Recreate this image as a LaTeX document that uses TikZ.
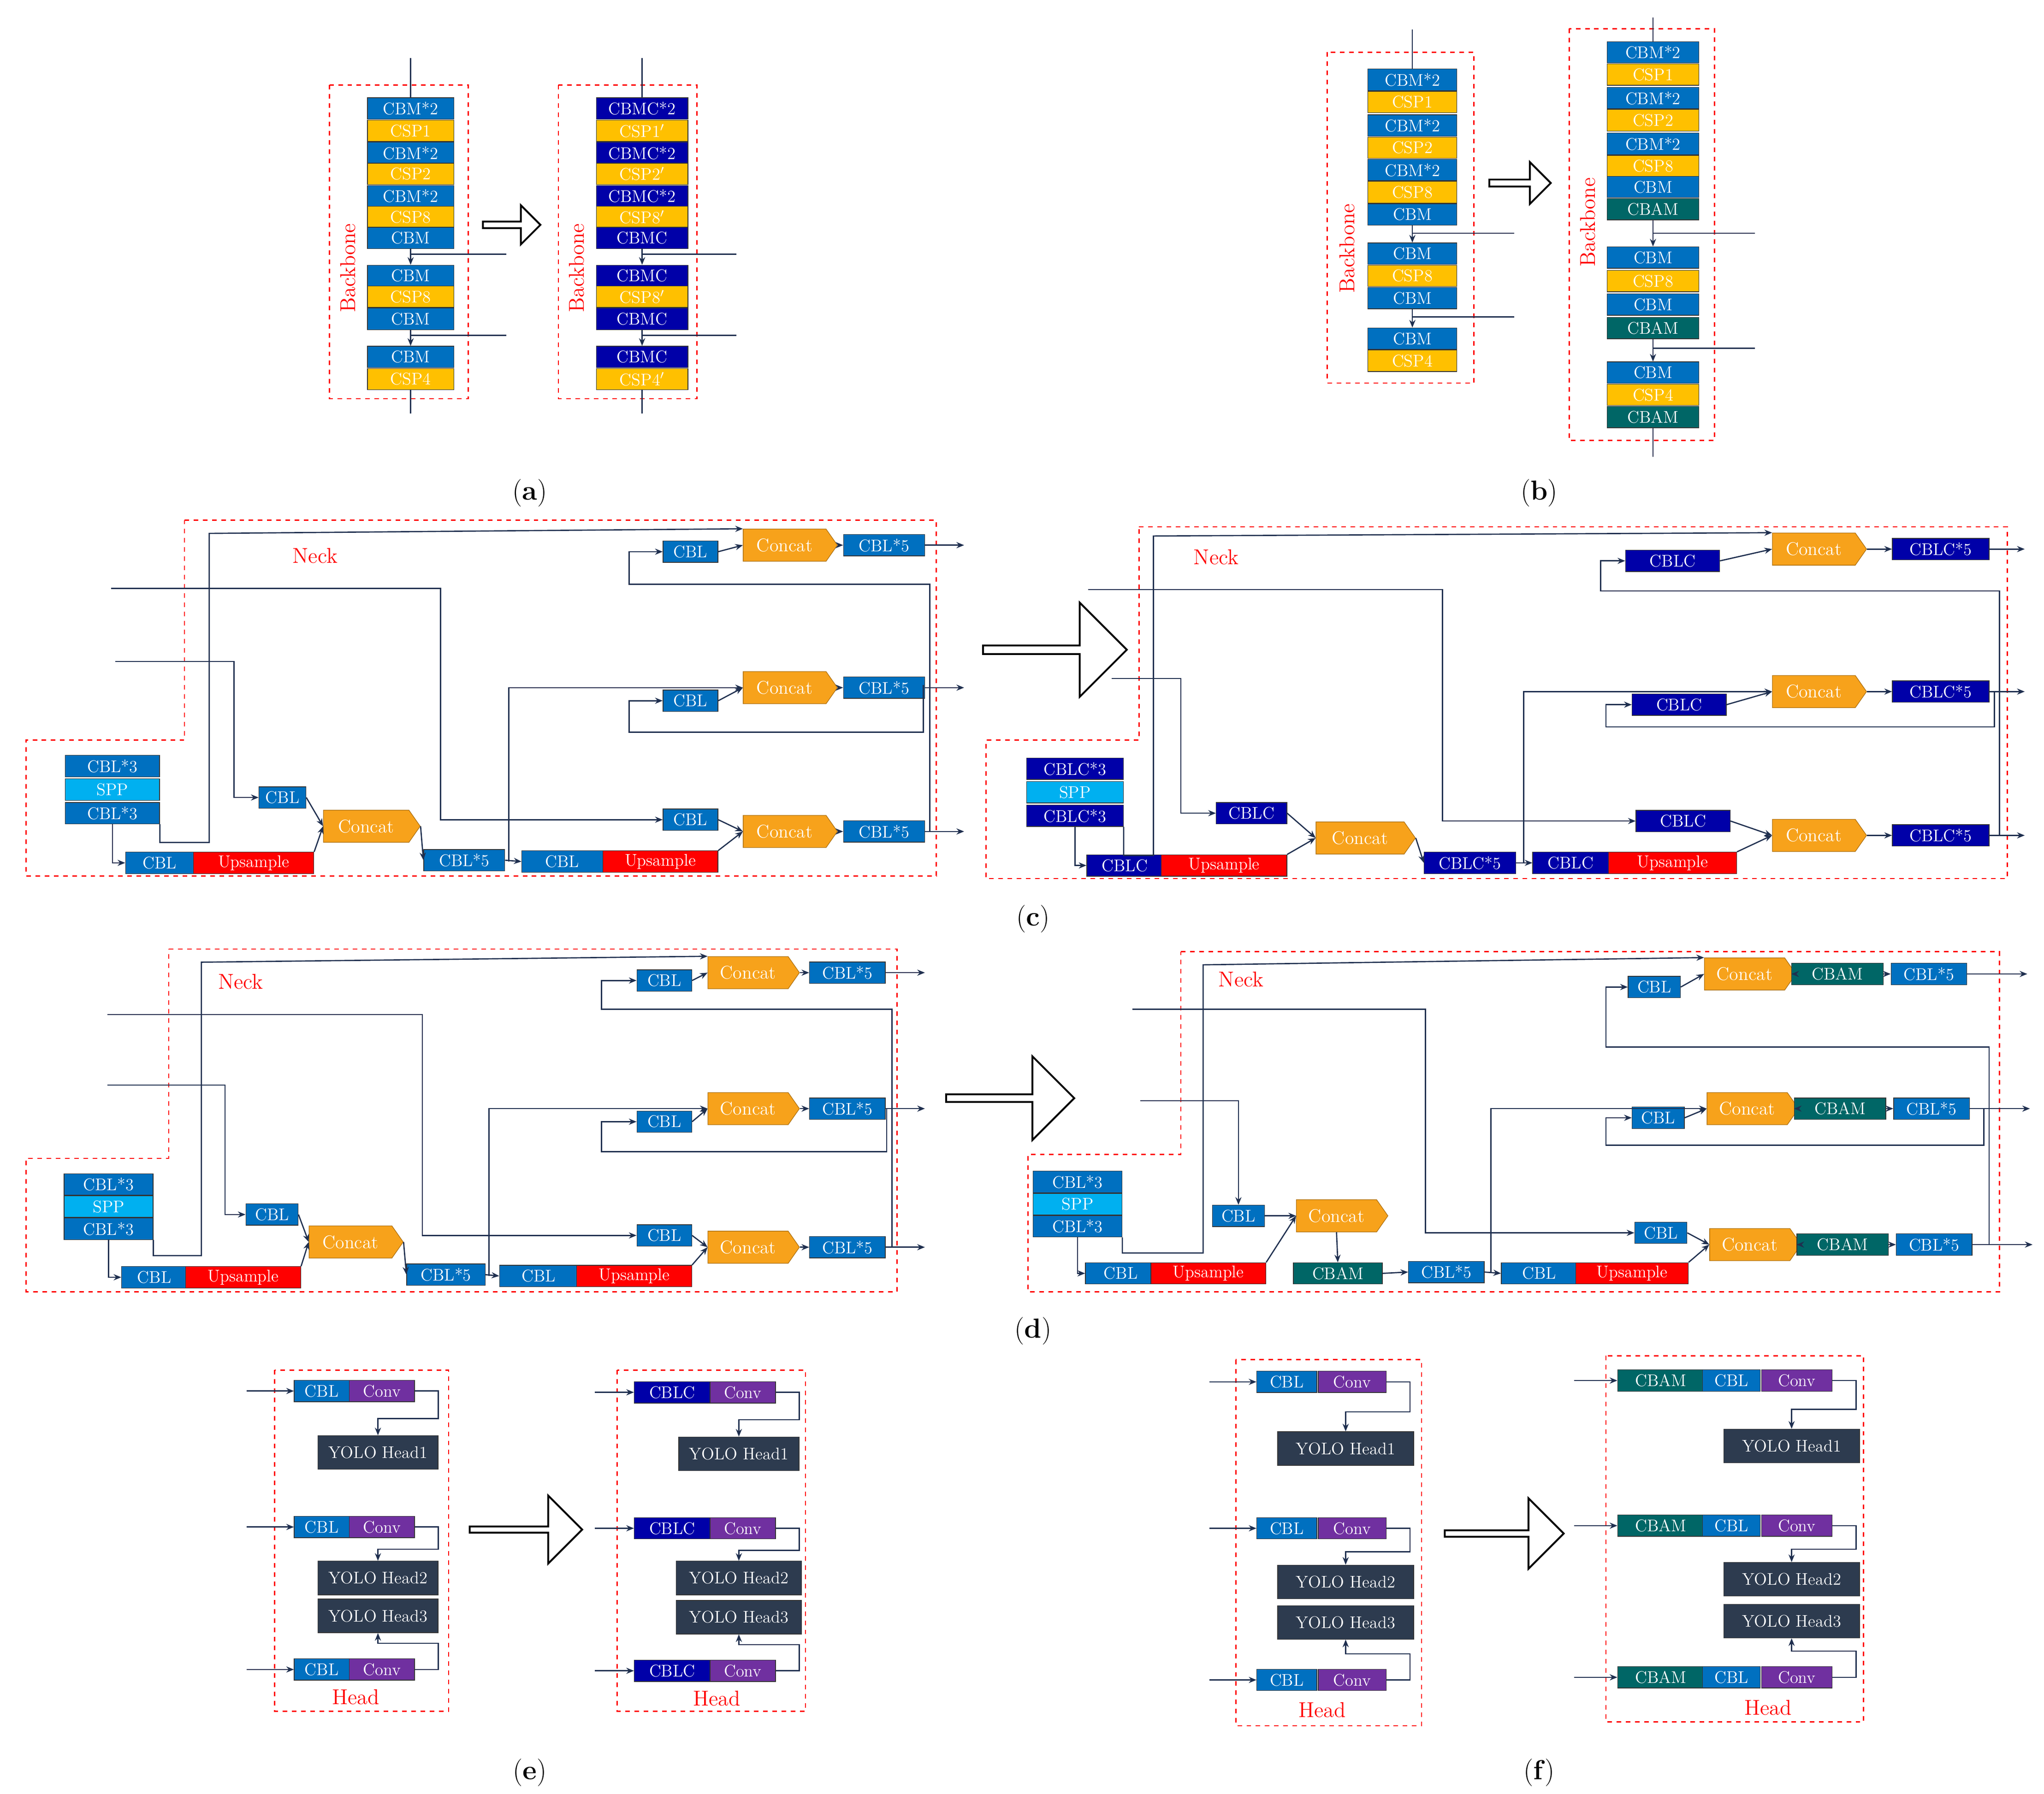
\documentclass[tikz,border=0pt]{standalone}
\usetikzlibrary{shapes.symbols,shapes.arrows,arrows.meta}
\definecolor{cbmblue}{HTML}{0070C0}
\definecolor{cspyel}{HTML}{FFC000}
\definecolor{cbmcblue}{HTML}{0000A8}
\definecolor{sppblue}{HTML}{00B0F0}
\definecolor{upred}{HTML}{FF0000}
\definecolor{catorg}{HTML}{F7A21B}
\definecolor{cbamteal}{HTML}{006666}
\definecolor{convpur}{HTML}{7030A0}
\definecolor{yolodark}{HTML}{2D3B4F}
\definecolor{lnc}{HTML}{1F2F4F}
\newcommand\bk[5][]{\node[blk,#1,minimum width=#4*0.3mm] (#2) at (#3) {#5};}
\begin{document}
\begin{tikzpicture}[x=0.3mm, y=-0.3mm,
    blk/.style={draw=black!80, minimum height=14pt, inner sep=0pt, text=white, font=\fontsize{11}{12}\selectfont},
    cbm/.style={fill=cbmblue}, csp/.style={fill=cspyel}, cbmc/.style={fill=cbmcblue},
    spp/.style={fill=sppblue}, ups/.style={fill=upred}, cbam/.style={fill=cbamteal},
    conv/.style={fill=convpur}, yolo/.style={fill=yolodark, minimum height=22pt},
    cat/.style={fill=catorg, draw=catorg!70!black, signal, signal to=east, signal pointer angle=110, minimum height=21pt, font=\fontsize{12}{13}\selectfont},
    frame/.style={draw=red, dashed, thick},
    redlab/.style={text=red, font=\fontsize{14}{15}\selectfont},
    panlab/.style={font=\fontsize{18}{20}\selectfont},
    bigarr/.style={single arrow, draw=black, very thick, fill=white, minimum height=#1*0.3mm, single arrow head extend=6pt, inner sep=0pt},
    ln/.style={draw=lnc, thick},
    arr/.style={ln, -{Stealth[length=5pt,width=4pt]}}]
\useasboundingbox (0,0) rectangle (1563,1372);

% (a)
\draw[frame] (252,65) rectangle (358,305);
\draw[frame] (427,65) rectangle (533,305);
\foreach \y/\t/\s [count=\i] in {83/CBM*2/cbm,100/CSP1/csp,117/CBM*2/cbm,133/CSP2/csp,150/CBM*2/cbm,166/CSP8/csp,182/CBM/cbm,211/CBM/cbm,227/CSP8/csp,244/CBM/cbm,273/CBM/cbm,290/CSP4/csp}
  \bk[\s]{a\i}{314,\y}{66}{\t};
\foreach \y/\t/\s [count=\i] in {83/CBMC*2/cbmc,100/CSP1$'$/csp,117/CBMC*2/cbmc,133/CSP2$'$/csp,150/CBMC*2/cbmc,166/CSP8$'$/csp,182/CBMC/cbmc,211/CBMC/cbmc,227/CSP8$'$/csp,244/CBMC/cbmc,273/CBMC/cbmc,290/CSP4$'$/csp}
  \bk[\s]{ar\i}{491,\y}{70}{\t};
\draw[ln] (a1.north) -- ++(0,-30); \draw[ln] (a12.south) -- ++(0,18);
\draw[arr] (a7.south) -- (a8.north); \draw[arr] (a10.south) -- (a11.north);
\draw[ln] (a7.south) ++(0,4) -- ++(73,0); \draw[ln] (a10.south) ++(0,4) -- ++(73,0);
\draw[ln] (ar1.north) -- ++(0,-30); \draw[ln] (ar12.south) -- ++(0,18);
\draw[arr] (ar7.south) -- (ar8.north); \draw[arr] (ar10.south) -- (ar11.north);
\draw[ln] (ar7.south) ++(0,4) -- ++(72,0); \draw[ln] (ar10.south) ++(0,4) -- ++(72,0);
\node[redlab, rotate=90] at (266,205) {Backbone};
\node[redlab, rotate=90] at (441,205) {Backbone};
\node[bigarr=44, minimum width=30*0.3mm, single arrow head extend=3pt] at (390,172) {};
\node[panlab] at (405,377) {(\textbf{a})};

% (b)
\draw[frame] (1015,40) rectangle (1127,293);
\draw[frame] (1200,22) rectangle (1311,337);
\foreach \y/\t/\s [count=\i] in {61/CBM*2/cbm,78/CSP1/csp,96/CBM*2/cbm,113/CSP2/csp,130/CBM*2/cbm,147/CSP8/csp,164/CBM/cbm,194/CBM/cbm,211/CSP8/csp,228/CBM/cbm,259/CBM/cbm,276/CSP4/csp}
  \bk[\s]{b\i}{1080,\y}{68}{\t};
\foreach \y/\t/\s [count=\i] in {40/CBM*2/cbm,57/CSP1/csp,75/CBM*2/cbm,92/CSP2/csp,110/CBM*2/cbm,127/CSP8/csp,143/CBM/cbm,160/CBAM/cbam,197/CBM/cbm,215/CSP8/csp,233/CBM/cbm,251/CBAM/cbam,285/CBM/cbm,302/CSP4/csp,319/CBAM/cbam}
  \bk[\s]{br\i}{1264,\y}{70}{\t};
\draw[ln] (b1.north) -- ++(0,-30); \draw[arr] (b7.south) -- (b8.north); \draw[arr] (b10.south) -- (b11.north);
\draw[ln] (b7.south) ++(0,6) -- ++(78,0); \draw[ln] (b10.south) ++(0,6) -- ++(78,0);
\draw[ln] (br1.north) -- ++(0,-18); \draw[ln] (br15.south) -- ++(0,22);
\draw[arr] (br8.south) -- (br9.north); \draw[arr] (br12.south) -- (br13.north);
\draw[ln] (br8.south) ++(0,10) -- ++(78,0); \draw[ln] (br12.south) ++(0,7) -- ++(78,0);
\node[redlab, rotate=90] at (1030,190) {Backbone};
\node[redlab, rotate=90] at (1214,170) {Backbone};
\node[bigarr=47, minimum width=32*0.3mm, single arrow head extend=3pt] at (1161,140) {};
\node[panlab] at (1177,377) {(\textbf{b})};

% (c) left
\draw[frame] (141,398) -- (716,398) -- (716,670) -- (20,670) -- (20,566) -- (141,566) -- cycle;
\node[redlab] at (241,425) {Neck};
\bk[cbm]{c1}{86,586}{72}{CBL*3} \bk[spp]{c2}{86,604}{72}{SPP} \bk[cbm]{c3}{86,622}{72}{CBL*3}
\bk[cbm]{ccbl}{122,660}{52}{CBL} \bk[ups]{cup}{194,660}{92}{Upsample}
\bk[cbm]{ccblA}{216,610}{36}{CBL}
\node[blk,cat,minimum width=74*0.3mm] (ccat0) at (280,632) {Concat};
\bk[cbm]{cc5}{355,658}{62}{CBL*5}
\bk[cbm]{ccbl2}{430,659}{62}{CBL} \bk[ups]{cup2}{505,659}{88}{Upsample}
\bk[cbm]{ccblT}{528,422}{42}{CBL} \bk[cbm]{ccblM}{528,536}{42}{CBL} \bk[cbm]{ccblB}{528,627}{42}{CBL}
\foreach \n/\y in {T/417,M/526,B/636}{
  \node[blk,cat,minimum width=72*0.3mm] (ccat\n) at (600,\y) {Concat};
  \bk[cbm]{c5\n}{676,\y}{62}{CBL*5}
  \draw[arr] (ccat\n.east) -- (c5\n.west);
  \draw[arr] (c5\n.east) -- ++(30,0);
  \draw[arr] (ccbl\n.east) -- (ccat\n.west);}
\coordinate (ci1) at (85,450); \coordinate (ci2) at (88,506);
\draw[arr] (c3.south) |- (ccbl.west);
\draw[arr] (c3.south east) -- ++(0,14) -| (160,408) -- (ccatT.north west);
\draw[arr] (ci2) -| (179,600) |- (ccblA.west);
\draw[arr] (ci1) -| (337,600) |- (ccblB.west);
\draw[arr] (cup.north east) -- (ccat0.west); \draw[arr] (ccblA.east) -- (ccat0.west);
\draw[arr] (ccat0.east) -- (cc5.west); \draw[arr] (cc5.east) -- (ccbl2.west);
\draw[arr] (389,659) |- (ccatM.west); \draw[arr] (cup2.north east) -- (ccatB.west);
\draw[arr] (711,636) |- (481,447) |- (ccblT.west);
\draw[arr] (706,524) |- (481,560) |- (ccblM.west);
\node[bigarr=110, minimum width=72*0.3mm] at (805,497) {};

% (c) right
\draw[frame] (871,403) -- (1535,403) -- (1535,672) -- (754,672) -- (754,566) -- (871,566) -- cycle;
\node[redlab] at (930,426) {Neck};
\bk[cbmc]{r1}{822,588}{74}{CBLC*3} \bk[spp]{r2}{822,606}{74}{SPP} \bk[cbmc]{r3}{822,624}{74}{CBLC*3}
\bk[cbmc]{rcbl}{860,662}{58}{CBLC} \bk[ups]{rup}{936,662}{96}{Upsample}
\bk[cbmc]{rcblA}{957,622}{54}{CBLC}
\node[blk,cat,minimum width=76*0.3mm] (rcat0) at (1040,641) {Concat};
\bk[cbmc]{rc5}{1124,660}{70}{CBLC*5}
\bk[cbmc]{rcbl2}{1201,660}{58}{CBLC} \bk[ups]{rup2}{1279,660}{98}{Upsample}
\bk[cbmc]{rcblT}{1279,429}{72}{CBLC} \bk[cbmc]{rcblM}{1284,539}{72}{CBLC} \bk[cbmc]{rcblB}{1287,628}{72}{CBLC}
\foreach \n/\y in {T/420,M/529,B/639}{
  \node[blk,cat,minimum width=72*0.3mm] (rcat\n) at (1387,\y) {Concat};
  \bk[cbmc]{r5\n}{1484,\y}{74}{CBLC*5}
  \draw[arr] (rcat\n.east) -- (r5\n.west);
  \draw[arr] (r5\n.east) -- ++(27,0);
  \draw[arr] (rcbl\n.east) -- (rcat\n.west);}
\coordinate (ri1) at (832,451); \coordinate (ri2) at (850,519);
\draw[arr] (r3.south) |- (rcbl.west);
\draw[arr] (r3.south east) -- ++(0,22) -| (882,410) -- (rcatT.north west);
\draw[arr] (ri2) -| (903,600) |- (rcblA.west);
\draw[arr] (ri1) -| (1103,600) |- (rcblB.west);
\draw[arr] (rup.north east) -- (rcat0.west); \draw[arr] (rcblA.east) -- (rcat0.west);
\draw[arr] (rcat0.east) -- (rc5.west); \draw[arr] (rc5.east) -- (rcbl2.west);
\draw[arr] (1165,660) |- (rcatM.west); \draw[arr] (rup2.north east) -- (rcatB.west);
\draw[arr] (1529,639) |- (1224,452) |- (rcblT.west);
\draw[arr] (1525,529) |- (1228,556) |- (rcblM.west);
\node[panlab] at (790,703) {(\textbf{c})};

% (d) left
\draw[frame] (129,726) -- (686,726) -- (686,988) -- (20,988) -- (20,886) -- (129,886) -- cycle;
\node[redlab] at (184,751) {Neck};
\bk[cbm]{d1}{83,906}{68}{CBL*3} \bk[spp]{d2}{83,923}{68}{SPP} \bk[cbm]{d3}{83,940}{68}{CBL*3}
\bk[cbm]{dcbl}{118,977}{50}{CBL} \bk[ups]{dup}{186,977}{88}{Upsample}
\bk[cbm]{dcblA}{208,929}{40}{CBL}
\node[blk,cat,minimum width=72*0.3mm] (dcat0) at (268,950) {Concat};
\bk[cbm]{dc5}{341,975}{60}{CBL*5}
\bk[cbm]{dcbl2}{412,976}{60}{CBL} \bk[ups]{dup2}{485,976}{88}{Upsample}
\bk[cbm]{dcblT}{508,750}{42}{CBL} \bk[cbm]{dcblM}{508,858}{42}{CBL} \bk[cbm]{dcblB}{508,945}{42}{CBL}
\foreach \n/\y in {T/744,M/848,B/954}{
  \node[blk,cat,minimum width=70*0.3mm] (dcat\n) at (572,\y) {Concat};
  \bk[cbm]{d5\n}{648,\y}{58}{CBL*5}
  \draw[arr] (dcat\n.east) -- (d5\n.west);
  \draw[arr] (d5\n.east) -- ++(30,0);
  \draw[arr] (dcbl\n.east) -- (dcat\n.west);}
\coordinate (di1) at (82,776); \coordinate (di2) at (82,830);
\draw[arr] (d3.south) |- (dcbl.west);
\draw[arr] (d3.south east) -- ++(0,12) -| (154,736) -- (dcatT.north west);
\draw[arr] (di2) -| (172,900) |- (dcblA.west);
\draw[arr] (di1) -| (323,900) |- (dcblB.west);
\draw[arr] (dup.north east) -- (dcat0.west); \draw[arr] (dcblA.east) -- (dcat0.west);
\draw[arr] (dcat0.east) -- (dc5.west); \draw[arr] (dc5.east) -- (dcbl2.west);
\draw[arr] (374,976) |- (dcatM.west); \draw[arr] (dup2.north east) -- (dcatB.west);
\draw[arr] (682,954) |- (460,772) |- (dcblT.west);
\draw[arr] (678,848) |- (460,881) |- (dcblM.west);
\node[bigarr=98, minimum width=64*0.3mm] at (771,840) {};

% (d) right
\draw[frame] (903,728) -- (1529,728) -- (1529,988) -- (786,988) -- (786,883) -- (903,883) -- cycle;
\node[redlab] at (949,749) {Neck};
\bk[cbm]{e1}{824,904}{68}{CBL*3} \bk[spp]{e2}{824,921}{68}{SPP} \bk[cbm]{e3}{824,938}{68}{CBL*3}
\bk[cbm]{ecbl}{857,974}{54}{CBL} \bk[ups]{eup}{924,974}{88}{Upsample}
\bk[cbm]{ecblA}{947,930}{40}{CBL}
\node[blk,cat,minimum width=70*0.3mm] (ecat0) at (1022,930) {Concat};
\bk[cbam]{ecbam0}{1023,974}{68}{CBAM}
\bk[cbm]{ec5}{1106,973}{58}{CBL*5}
\bk[cbm]{ecbl2}{1177,974}{58}{CBL} \bk[ups]{eup2}{1248,974}{86}{Upsample}
\bk[cbm]{ecblT}{1265,755}{40}{CBL} \bk[cbm]{ecblM}{1268,855}{40}{CBL} \bk[cbm]{ecblB}{1270,943}{40}{CBL}
\foreach \n/\y/\x in {T/745/1334,M/848/1336,B/952/1338}{
  \node[blk,cat,minimum width=70*0.3mm] (ecat\n) at (\x,\y) {Concat};
  \bk[cbam]{ecbam\n}{\x+71,\y}{70}{CBAM}
  \bk[cbm]{e5\n}{\x+141,\y}{58}{CBL*5}
  \draw[arr] (ecat\n.east) -- (ecbam\n.west);
  \draw[arr] (ecbam\n.east) -- (e5\n.west);
  \draw[arr] (e5\n.east) -- ++(46,0);
  \draw[arr] (ecbl\n.east) -- (ecat\n.west);}
\coordinate (ei1) at (866,772); \coordinate (ei2) at (872,842);
\draw[arr] (e3.south) |- (ecbl.west);
\draw[arr] (e3.south east) -- ++(0,12) -| (920,738) -- (ecatT.north west);
\draw[arr] (ei2) -| (ecblA.north);
\draw[arr] (ei1) -| (1090,900) |- (ecblB.west);
\draw[arr] (eup.north east) -- (ecat0.west); \draw[arr] (ecblA.east) -- (ecat0.west);
\draw[arr] (ecat0.south) -- (ecbam0.north);
\draw[arr] (ecbam0.east) -- (ec5.west); \draw[arr] (ec5.east) -- (ecbl2.west);
\draw[arr] (1140,974) |- (ecatM.west); \draw[arr] (eup2.north east) -- (ecatB.west);
\draw[arr] (1521,952) |- (1228,801) |- (ecblT.west);
\draw[arr] (1517,848) |- (1228,876) |- (ecblM.west);
\node[panlab] at (790,1018) {(\textbf{d})};

% (e)
\draw[frame] (210,1048) rectangle (343,1309);
\draw[frame] (472,1048) rectangle (616,1309);
\node[redlab] at (272,1298) {Head};
\node[redlab] at (548,1299) {Head};
\foreach \y [count=\i] in {1064,1168,1277}{
  \bk[cbm]{hL\i}{246,\y}{42}{CBL} \bk[conv]{hC\i}{292,\y}{50}{Conv}
  \draw[arr] (hL\i.west) ++(-36,0) -- (hL\i.west);
  \bk[cbmc]{hrL\i}{514,\y+1}{58}{CBLC} \bk[conv]{hrC\i}{568,\y+1}{50}{Conv}
  \draw[arr] (hrL\i.west) ++(-30,0) -- (hrL\i.west);}
\bk[yolo]{hH1}{289,1111}{92}{YOLO Head1} \bk[yolo]{hH2}{289,1207}{92}{YOLO Head2} \bk[yolo]{hH3}{289,1236}{92}{YOLO Head3}
\bk[yolo]{hrH1}{565,1112}{92}{YOLO Head1} \bk[yolo]{hrH2}{565,1207}{96}{YOLO Head2} \bk[yolo]{hrH3}{565,1237}{96}{YOLO Head3}
\draw[arr] (hC1.east) -| ++(18,21) -| (hH1.north);
\draw[arr] (hC2.east) -| ++(18,17) -| (hH2.north);
\draw[arr] (hC3.east) -| ++(18,-20) -| (hH3.south);
\draw[arr] (hrC1.east) -| ++(18,21) -| (hrH1.north);
\draw[arr] (hrC2.east) -| ++(18,17) -| (hrH2.north);
\draw[arr] (hrC3.east) -| ++(18,-20) -| (hrH3.south);
\node[bigarr=86, minimum width=52*0.3mm] at (401,1170) {};
\node[panlab] at (405,1356) {(\textbf{e})};

% (f)
\draw[frame] (945,1040) rectangle (1087,1320);
\draw[frame] (1228,1037) rectangle (1425,1317);
\node[redlab] at (1011,1308) {Head};
\node[redlab] at (1352,1306) {Head};
\foreach \y/\z [count=\i] in {1057/1056,1169/1167,1285/1283}{
  \bk[cbm]{fL\i}{984,\y}{46}{CBL} \bk[conv]{fC\i}{1034,\y}{52}{Conv}
  \draw[arr] (fL\i.west) ++(-36,0) -- (fL\i.west);
  \bk[cbam]{frA\i}{1270,\z}{66}{CBAM} \bk[cbm]{frL\i}{1324,\z}{44}{CBL} \bk[conv]{frC\i}{1374,\z}{54}{Conv}
  \draw[arr] (frA\i.west) ++(-33,0) -- (frA\i.west);}
\bk[yolo]{fH1}{1029,1108}{104}{YOLO Head1} \bk[yolo]{fH2}{1029,1210}{104}{YOLO Head2} \bk[yolo]{fH3}{1029,1241}{104}{YOLO Head3}
\bk[yolo]{frH1}{1370,1106}{104}{YOLO Head1} \bk[yolo]{frH2}{1370,1208}{104}{YOLO Head2} \bk[yolo]{frH3}{1370,1240}{104}{YOLO Head3}
\draw[arr] (fC1.east) -| ++(18,23) -| (fH1.north);
\draw[arr] (fC2.east) -| ++(18,18) -| (fH2.north);
\draw[arr] (fC3.east) -| ++(18,-20) -| (fH3.south);
\draw[arr] (frC1.east) -| ++(18,22) -| (frH1.north);
\draw[arr] (frC2.east) -| ++(18,18) -| (frH2.north);
\draw[arr] (frC3.east) -| ++(18,-20) -| (frH3.south);
\node[bigarr=91, minimum width=54*0.3mm] at (1149,1173) {};
\node[panlab] at (1177,1356) {(\textbf{f})};
\end{tikzpicture}
\end{document}
